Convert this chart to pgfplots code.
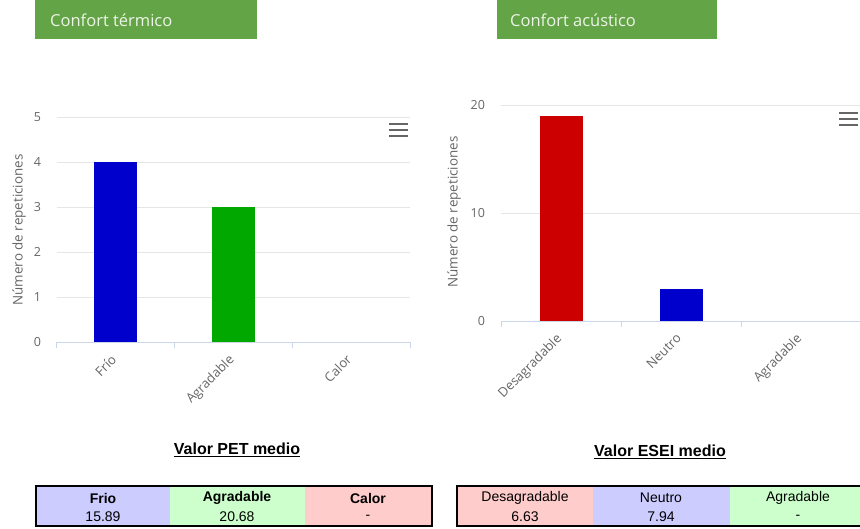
\documentclass[border=0pt]{standalone}
\usepackage{fontspec}
\setmainfont{Liberation Sans}
\newfontfamily\chartfont{Open Sans}
\usepackage{pgfplots}
\pgfplotsset{compat=1.18}
\definecolor{titlegreen}{HTML}{62A446}
\definecolor{titletext}{HTML}{EEF5E8}
\definecolor{gridcol}{HTML}{E6E6E6}
\definecolor{axiscol}{HTML}{CCD6EB}
\definecolor{labelcol}{HTML}{666666}
\definecolor{barblue}{HTML}{0000CC}
\definecolor{bargreen}{HTML}{00A800}
\definecolor{barred}{HTML}{CC0000}
\definecolor{cellblue}{HTML}{CCCCFF}
\definecolor{cellgreen}{HTML}{CCFFCC}
\definecolor{cellred}{HTML}{FFCCCC}
\pgfplotsset{
  hcbar/.style={
    scale only axis,
    xmin=0, xmax=3, ymin=0,
    axis x line*=bottom,
    axis y line*=left,
    x axis line style={draw=axiscol, line width=1pt, -},
    y axis line style={draw=none},
    ymajorgrids,
    grid style={draw=gridcol, line width=0.8pt},
    xtick={0.5,1.5,2.5},
    major tick length=0pt,
    extra x ticks={0,1,2,3},
    extra x tick labels={},
    extra x tick style={grid=none, major tick length=6pt, tick align=outside, tick style={draw=axiscol, line width=1pt}},
    /pgf/number format/assume math mode=true,
    y tick label style={font=\chartfont\fontsize{12.5}{14}\selectfont, text=labelcol, anchor=east, xshift=-12.5pt},
    x tick label style={font=\chartfont\fontsize{13}{15}\selectfont, text=labelcol, rotate=45, anchor=north east, inner sep=0pt, xshift=-12pt, yshift=-4pt},
    ybar, bar width=43pt,
  }
}
\begin{document}
\begin{tikzpicture}[x=1pt,y=1pt]
\useasboundingbox (0,0) rectangle (860,528);
\fill[white] (0,0) rectangle (860,528);
% title boxes
\fill[titlegreen] (35,489) rectangle (257,528);
\node[anchor=base west, inner sep=0pt, text=titletext, font=\chartfont\fontsize{16.5}{18}\selectfont] at (50,501) {Confort térmico};
\fill[titlegreen] (497,489) rectangle (717,528);
\node[anchor=base west, inner sep=0pt, text=titletext, font=\chartfont\fontsize{16.5}{18}\selectfont] at (510,501) {Confort acústico};

% left chart
\begin{axis}[hcbar, at={(57pt,186pt)}, anchor=south west, width=353pt, height=225pt,
  ymax=5, ytick={0,1,2,3,4,5}, xticklabels={Frío,Agradable,Calor}]
\addplot[fill=barblue, draw=none, bar shift=0pt] coordinates {(0.5,4)};
\addplot[fill=bargreen, draw=none, bar shift=0pt] coordinates {(1.5,3)};
\addplot[fill=none, draw=none, bar shift=0pt] coordinates {(2.5,0)};
\end{axis}
\node[rotate=90, text=labelcol, font=\chartfont\fontsize{13.4}{15}\selectfont] at (19,298) {Número de repeticiones};
\draw[labelcol, line width=2.5pt] (389,404) -- (408,404) (389,398) -- (408,398) (389,392) -- (408,392);

% right chart
\begin{axis}[hcbar, at={(501pt,207pt)}, anchor=south west, width=360pt, height=216pt,
  ymax=20, ytick={0,10,20}, xticklabels={Desagradable,Neutro,Agradable}]
\addplot[fill=barred, draw=none, bar shift=0pt] coordinates {(0.5,19)};
\addplot[fill=barblue, draw=none, bar shift=0pt] coordinates {(1.5,3)};
\addplot[fill=none, draw=none, bar shift=0pt] coordinates {(2.5,0)};
\end{axis}
\node[rotate=90, text=labelcol, font=\chartfont\fontsize{13.4}{15}\selectfont] at (454,316) {Número de repeticiones};
\draw[labelcol, line width=2.5pt] (839,415) -- (858,415) (839,409) -- (858,409) (839,403) -- (858,403);

% table titles
\node[font=\bfseries\fontsize{16}{18}\selectfont] at (237,78) {\underline{Valor PET medio}};
\node[font=\bfseries\fontsize{16}{18}\selectfont] at (660,76) {\underline{Valor ESEI medio}};

% left table
\fill[cellblue] (36,2) rectangle (170,42);
\fill[cellgreen] (170,2) rectangle (305,42);
\fill[cellred] (305,2) rectangle (432,42);
\draw[black, line width=1.5pt] (36,2) rectangle (432,42);
\begin{scope}[font=\bfseries\fontsize{14}{16}\selectfont]
\node at (103,30) {Frio};
\node at (237,30) {Agradable};
\node at (368,30) {Calor};
\end{scope}
\begin{scope}[font=\fontsize{14}{16}\selectfont]
\node at (103,11) {15.89};
\node at (237,11) {20.68};
\node at (368,11) {-};
\end{scope}

% right table
\fill[cellred] (457,2) rectangle (593,42);
\fill[cellblue] (593,2) rectangle (730,42);
\fill[cellgreen] (730,2) rectangle (868,42);
\draw[black, line width=1.5pt] (457,2) rectangle (870,42);
\begin{scope}[font=\fontsize{14}{16}\selectfont]
\node at (525,30) {Desagradable};
\node at (661,30) {Neutro};
\node at (798,30) {Agradable};
\node at (525,11) {6.63};
\node at (661,11) {7.94};
\node at (798,11) {-};
\end{scope}
\end{tikzpicture}
\end{document}
